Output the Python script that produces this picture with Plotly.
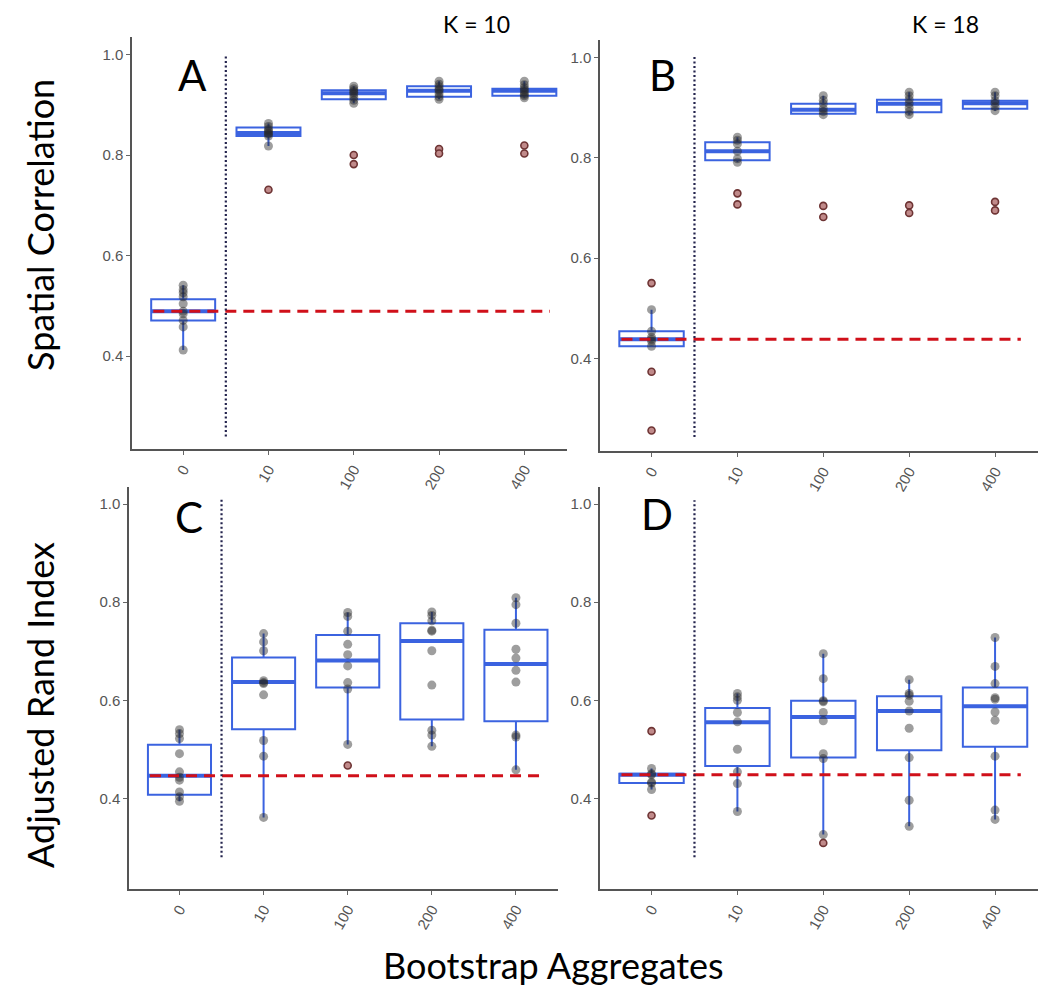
import plotly.graph_objects as go

W, H = 1050, 1007
OFF = 8  # default page body margin
categories = ["0", "10", "100", "200", "400"]

# ---- Panel A: Spatial Correlation, K = 10 ----
A_q1 = [0.471, 0.838, 0.911, 0.916, 0.918]
A_med = [0.489, 0.844, 0.923, 0.928, 0.928]
A_q3 = [0.513, 0.855, 0.929, 0.937, 0.932]
A_lo = [0.412, 0.818, 0.903, 0.911, 0.914]
A_hi = [0.541, 0.863, 0.937, 0.947, 0.947]
A_pts = [
    [0.541, 0.532, 0.526, 0.518, 0.504, 0.489, 0.484, 0.471, 0.458, 0.412],
    [0.863, 0.857, 0.851, 0.848, 0.844, 0.842, 0.838, 0.818],
    [0.937, 0.932, 0.928, 0.925, 0.921, 0.915, 0.909, 0.903],
    [0.947, 0.941, 0.936, 0.931, 0.928, 0.922, 0.916, 0.911],
    [0.947, 0.940, 0.934, 0.930, 0.926, 0.921, 0.918, 0.914],
]
A_out = [[], [0.731], [0.800, 0.782], [0.812, 0.803], [0.819, 0.803]]
A_ref = 0.489

# ---- Panel B: Spatial Correlation, K = 18 ----
B_q1 = [0.424, 0.795, 0.888, 0.891, 0.898]
B_med = [0.438, 0.813, 0.896, 0.908, 0.909]
B_q3 = [0.454, 0.831, 0.908, 0.916, 0.914]
B_lo = [0.424, 0.791, 0.886, 0.886, 0.894]
B_hi = [0.497, 0.841, 0.924, 0.931, 0.931]
B_pts = [
    [0.497, 0.454, 0.442, 0.438, 0.434, 0.424],
    [0.841, 0.835, 0.828, 0.813, 0.798, 0.791],
    [0.924, 0.915, 0.908, 0.898, 0.892, 0.886],
    [0.931, 0.924, 0.916, 0.908, 0.900, 0.892, 0.886],
    [0.931, 0.924, 0.914, 0.909, 0.902, 0.894],
]
B_out = [[0.550, 0.373, 0.256], [0.729, 0.707], [0.704, 0.682], [0.705, 0.690], [0.712, 0.695]]
B_ref = 0.438

# ---- Panel C: Adjusted Rand Index, K = 10 ----
C_q1 = [0.407, 0.541, 0.626, 0.561, 0.557]
C_med = [0.446, 0.637, 0.681, 0.721, 0.674]
C_q3 = [0.509, 0.687, 0.733, 0.757, 0.744]
C_lo = [0.394, 0.361, 0.510, 0.506, 0.458]
C_hi = [0.540, 0.736, 0.779, 0.780, 0.809]
C_pts = [
    [0.540, 0.532, 0.522, 0.491, 0.454, 0.443, 0.437, 0.413, 0.403, 0.394],
    [0.736, 0.719, 0.701, 0.640, 0.636, 0.634, 0.611, 0.518, 0.486, 0.361],
    [0.779, 0.771, 0.741, 0.714, 0.693, 0.670, 0.636, 0.623, 0.510],
    [0.780, 0.773, 0.762, 0.743, 0.741, 0.701, 0.631, 0.539, 0.529, 0.506],
    [0.809, 0.795, 0.757, 0.704, 0.686, 0.661, 0.637, 0.529, 0.525, 0.458],
]
C_out = [[], [], [0.467], [], []]
C_ref = 0.446

# ---- Panel D: Adjusted Rand Index, K = 18 ----
D_q1 = [0.431, 0.466, 0.483, 0.498, 0.505]
D_med = [0.448, 0.555, 0.566, 0.578, 0.588]
D_q3 = [0.450, 0.584, 0.599, 0.608, 0.626]
D_lo = [0.418, 0.373, 0.326, 0.343, 0.357]
D_hi = [0.461, 0.614, 0.695, 0.642, 0.728]
D_pts = [
    [0.461, 0.450, 0.448, 0.433, 0.431, 0.418],
    [0.614, 0.607, 0.600, 0.575, 0.556, 0.500, 0.454, 0.430, 0.373],
    [0.695, 0.644, 0.599, 0.597, 0.575, 0.558, 0.491, 0.481, 0.326],
    [0.642, 0.614, 0.610, 0.598, 0.578, 0.543, 0.483, 0.396, 0.343],
    [0.728, 0.669, 0.634, 0.605, 0.602, 0.576, 0.559, 0.486, 0.376, 0.357],
]
D_out = [[0.537, 0.365], [], [0.309], [], []]
D_ref = 0.448

panels = [
    ("A", A_q1, A_med, A_q3, A_lo, A_hi, A_pts, A_out, A_ref),
    ("B", B_q1, B_med, B_q3, B_lo, B_hi, B_pts, B_out, B_ref),
    ("C", C_q1, C_med, C_q3, C_lo, C_hi, C_pts, C_out, C_ref),
    ("D", D_q1, D_med, D_q3, D_lo, D_hi, D_pts, D_out, D_ref),
]

# target pixel boxes of plot areas on the page (left, right, top, bottom)
px = {
    "A": (132, 567, 37, 449),
    "B": (600, 1038, 40, 451),
    "C": (129, 558, 487, 889),
    "D": (600, 1038, 487, 889),
}
dotted_span = {"A": (0.24, 1.0), "B": (0.243, 1.004), "C": (0.28, 1.012), "D": (0.28, 1.008)}


def fx(p):
    return (p - OFF) / W


def fy(p):
    return 1 - (p - OFF) / H


BLUE = "#3b63e0"
BW = 0.75
fig = go.Figure()
layout = {}
for k, (name, q1, med, q3, lo, hi, pts, outs, ref) in enumerate(panels):
    idx = "" if k == 0 else str(k + 1)
    xa, ya = "x" + idx, "y" + idx
    xs = list(range(len(categories)))
    fig.add_trace(go.Box(
        x=xs, q1=q1, median=med, q3=q3, lowerfence=lo, upperfence=hi,
        width=BW, fillcolor="white", line=dict(color=BLUE, width=2),
        whiskerwidth=0, boxpoints=False, showlegend=False, hoverinfo="skip",
        xaxis=xa, yaxis=ya))
    mx, my = [], []
    for i, m in enumerate(med):
        mx += [i - BW / 2, i + BW / 2, None]
        my += [m, m, None]
    fig.add_trace(go.Scatter(x=mx, y=my, mode="lines", line=dict(color=BLUE, width=4),
                             showlegend=False, hoverinfo="skip", xaxis=xa, yaxis=ya))
    ox, oy = [], []
    for i, o in enumerate(outs):
        ox += [i] * len(o)
        oy += o
    fig.add_trace(go.Scatter(x=ox, y=oy, mode="markers",
                             marker=dict(size=7, color="#c08a8a", line=dict(color="#6e3434", width=1.6)),
                             showlegend=False, hoverinfo="skip", xaxis=xa, yaxis=ya))
    qx, qy = [], []
    for i, p in enumerate(pts):
        qx += [i] * len(p)
        qy += p
    fig.add_trace(go.Scatter(x=qx, y=qy, mode="markers",
                             marker=dict(size=9, color="rgba(40,40,40,0.45)", line=dict(width=0)),
                             showlegend=False, hoverinfo="skip", xaxis=xa, yaxis=ya))
    fig.add_trace(go.Scatter(x=[-0.35, 4.3], y=[ref, ref], mode="lines",
                             line=dict(color="#d0101a", width=3, dash="11px,7px"),
                             showlegend=False, hoverinfo="skip", xaxis=xa, yaxis=ya))
    d0, d1 = dotted_span[name]
    fig.add_trace(go.Scatter(x=[0.5, 0.5], y=[d0, d1], mode="lines",
                             line=dict(color="#23234d", width=2.2, dash="2px,2.5px"),
                             showlegend=False, hoverinfo="skip", xaxis=xa, yaxis=ya))

    l, r, t, b = px[name]
    layout["xaxis" + idx] = dict(
        domain=[fx(l), fx(r)], anchor=ya, range=[-0.6, 4.5],
        tickmode="array", tickvals=xs, ticktext=categories, tickangle=-60,
        ticks="outside", ticklen=4, tickcolor="#666", showline=True, linecolor="#555",
        linewidth=1.5, showgrid=False, zeroline=False,
        tickfont=dict(family="Liberation Sans", size=15, color="#555"))
    layout["yaxis" + idx] = dict(
        domain=[fy(b), fy(t)], anchor=xa, range=[0.215, 1.035],
        tickmode="array", tickvals=[0.4, 0.6, 0.8, 1.0], ticktext=["0.4", "0.6", "0.8", "1.0"],
        ticks="outside", ticklen=4, tickcolor="#666", showline=True, linecolor="#555",
        linewidth=1.5, showgrid=False, zeroline=False,
        tickfont=dict(family="Liberation Sans", size=15, color="#555"))


def note(text, x, y, size, angle=0):
    return dict(text=text, x=fx(x), y=fy(y), xref="paper", yref="paper", showarrow=False,
                xanchor="center", yanchor="middle", textangle=angle,
                font=dict(family="Lato", size=size, color="black"))


ann = [note(t, x, y, 42) for t, x, y in [("A", 192, 75), ("B", 662, 75), ("C", 189, 517), ("D", 657, 514)]]
ann += [
    dict(text="K = 10", x=fx(476), y=1.0, xref="paper", yref="paper", showarrow=False,
         xanchor="center", yanchor="top", font=dict(family="Lato", size=23, color="black")),
    dict(text="K = 18", x=fx(945), y=1.0, xref="paper", yref="paper", showarrow=False,
         xanchor="center", yanchor="top", font=dict(family="Lato", size=23, color="black")),
    note("Spatial Correlation", 40, 225, 36, -90),
    note("Adjusted Rand Index", 40, 705, 36, -90),
    note("Bootstrap Aggregates", 553, 965, 36),
]

fig.update_layout(width=W, height=H, margin=dict(l=0, r=0, t=0, b=0),
                  paper_bgcolor="white", plot_bgcolor="white", showlegend=False,
                  annotations=ann, **layout)
fig.write_html("out.html")
